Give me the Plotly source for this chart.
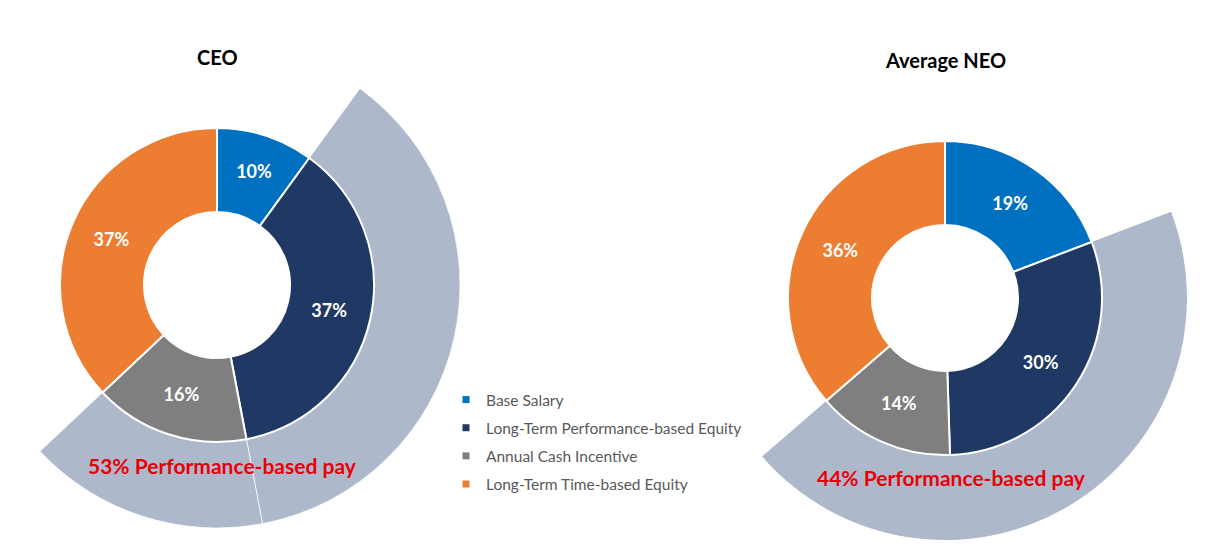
import math
import plotly.graph_objects as go

# ---------------- data ----------------
categories = ["Base Salary", "Long-Term Performance-based Equity",
              "Annual Cash Incentive", "Long-Term Time-based Equity"]
ceo_values = [10, 37, 16, 37]
neo_values = [19, 30, 14, 36]
performance_based = [False, True, True, False]
ceo_perf_label = "53% Performance-based pay"
neo_perf_label = "44% Performance-based pay"
chart_titles = ["CEO", "Average NEO"]

colors = ["#0070C0", "#1F3864", "#7F7F7F", "#ED7D31"]
GREY = "#ADB9CA"
FONT = "Lato"

W, H = 1212, 559          # browser window
OFF = 8                   # default body margin of the html page
FW, FH = W - 2 * OFF, H - 2 * OFF


def px(x):
    return (x - OFF) / FW


def py(y):
    return 1 - (y - OFF) / FH


def donut_domain(cx, cy, r):
    return dict(x=[px(cx - r), px(cx + r)], y=[py(cy + r), py(cy - r)])


def sector_bbox(s0, s1):
    arc = s1 - s0
    a0 = s0 % 360
    a1 = a0 + arc
    c0, sn0 = math.cos(math.radians(a0)), math.sin(math.radians(a0))
    c1, sn1 = math.cos(math.radians(a1)), math.sin(math.radians(a1))
    if (a0 <= 90 <= a1) or (a0 > 90 and a1 >= 450):
        y1 = 1
    elif sn0 <= 0 and sn1 <= 0:
        y1 = 0
    else:
        y1 = max(sn0, sn1)
    if (a0 <= 180 <= a1) or (a0 > 180 and a1 >= 540):
        x0 = -1
    elif c0 >= 0 and c1 >= 0:
        x0 = 0
    else:
        x0 = min(c0, c1)
    if (a0 <= 270 <= a1) or (a0 > 270 and a1 >= 630):
        y0 = -1
    elif sn0 >= 0 and sn1 >= 0:
        y0 = 0
    else:
        y0 = min(sn0, sn1)
    if a1 >= 360:
        x1 = 1
    elif c0 <= 0 and c1 <= 0:
        x1 = 0
    else:
        x1 = max(c0, c1)
    return x0, y0, x1, y1


def perf_arcs(values):
    total = float(sum(values))
    thetas, widths = [], []
    cum = 0.0
    start = end = None
    for v, p in zip(values, performance_based):
        if p:
            if start is None:
                start = cum
            thetas.append((cum + v / 2) / total * 360)
            widths.append(v / total * 360)
            end = cum + v
        cum += v
    return thetas, widths, start / total * 360, end / total * 360


fig = go.Figure()

charts = [
    dict(values=ceo_values, cx=217, cy=285, r=157, R=243, label=ceo_perf_label,
         label_x=222, label_y=465, title_y=57,
         sep=dict(color="rgba(255,255,255,0.75)", width=1), polar="polar"),
    dict(values=neo_values, cx=945, cy=298, r=157, R=242, label=neo_perf_label,
         label_x=951, label_y=477, title_y=60,
         sep=dict(color=GREY, width=0.8), polar="polar2"),
]

layout_extra = {}
annotations = []
for i, c in enumerate(charts):
    thetas, widths, a_start, a_end = perf_arcs(c["values"])
    sector = [90 - a_end, 90 - a_start]
    x0, y0, x1, y1 = sector_bbox(*sector)
    R = c["R"]
    dom = dict(
        x=[px(c["cx"] + R * x0), px(c["cx"] + R * x1)],
        y=[py(c["cy"] - R * y0), py(c["cy"] - R * y1)],
    )
    layout_extra[c["polar"]] = dict(
        domain=dom, sector=sector, hole=(c["r"] - 2) / R, bgcolor="rgba(0,0,0,0)",
        radialaxis=dict(visible=False, range=[0, 1]),
        angularaxis=dict(visible=False, rotation=90, direction="clockwise"),
    )
    fig.add_trace(go.Barpolar(
        r=[1] * len(thetas), theta=thetas, width=widths, subplot=c["polar"],
        marker=dict(color=GREY, line=c["sep"]),
        showlegend=False, hoverinfo="skip", name=""))

    fig.add_trace(go.Pie(
        labels=categories, values=c["values"], sort=False, direction="clockwise",
        rotation=0, hole=0.465, domain=donut_domain(c["cx"], c["cy"], c["r"]),
        marker=dict(colors=colors, line=dict(color="white", width=2)),
        texttemplate="%{value}%", textposition="inside",
        insidetextorientation="horizontal",
        textfont=dict(family=FONT, size=18, color="white", weight="bold"),
        showlegend=False, name=chart_titles[i]))

    annotations.append(dict(
        text="<b>%s</b>" % chart_titles[i], x=px(c["cx"]), y=py(c["title_y"]),
        xref="paper", yref="paper", xanchor="center", yanchor="middle",
        showarrow=False, font=dict(family=FONT, size=20, color="black")))
    annotations.append(dict(
        text="<b>%s</b>" % c["label"], x=px(c["label_x"]), y=py(c["label_y"]),
        xref="paper", yref="paper", xanchor="center", yanchor="middle",
        showarrow=False, font=dict(family=FONT, size=21, color="#E8000B")))

# legend entries
for cat, col in zip(categories, colors):
    fig.add_trace(go.Scatter(
        x=[None], y=[None], mode="markers", name=cat, legendgroup=cat,
        marker=dict(symbol="square", size=7, color=col), hoverinfo="skip"))

fig.update_layout(
    width=FW, height=FH, margin=dict(l=0, r=0, t=0, b=0),
    paper_bgcolor="white", plot_bgcolor="white",
    xaxis=dict(visible=False), yaxis=dict(visible=False),
    showlegend=True,
    legend=dict(x=px(446), y=py(383), xanchor="left", yanchor="top",
                font=dict(family=FONT, size=15.5, color="#595959"),
                tracegroupgap=5, itemsizing="trace", bgcolor="rgba(0,0,0,0)"),
    annotations=annotations,
    **layout_extra,
)

fig.write_html("out.html")
